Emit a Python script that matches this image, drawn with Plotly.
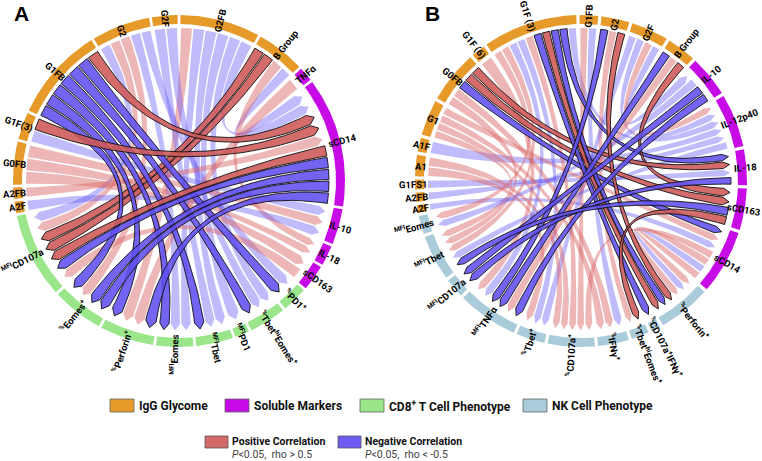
import math
import re
import plotly.graph_objects as go

W, H = 762, 461

# ------------------------------------------------------------------ data
# ---- Panel A : IgG glycome / soluble markers / CD8+ T cell phenotype
A_segments = ["G2FB", "B Group", "TNFa", "sCD14", "IL-10", "IL-18", "sCD163",
              "PD1", "TbetEomes", "MFI PD1", "MFI Tbet", "MFI Eomes", "Perforin", "Eomes", "MFI CD107a",
              "A2F", "A2FB", "G0FB", "G1F(3)", "G1FB", "G2", "G2F"]
A_labels = ["G2FB", "B Group", "TNFα", "sCD14", "IL-10", "IL-18", "sCD163",
            "<sup>%</sup>PD1<sup>+</sup>", "<sup>%</sup>Tbet<sup>hi</sup>Eomes<sup>+</sup>",
            "<sup>MFI</sup>PD1", "<sup>MFI</sup>Tbet", "<sup>MFI</sup>Eomes",
            "<sup>%</sup>Perforin<sup>+</sup>", "<sup>%</sup>Eomes<sup>+</sup>", "<sup>MFI</sup>CD107a",
            "A2F", "A2FB", "G0FB", "G1F(3)", "G1FB", "G2", "G2F"]
A_groups = ["IgG", "IgG", "Sol", "Sol", "Sol", "Sol", "Sol",
            "CD8", "CD8", "CD8", "CD8", "CD8", "CD8", "CD8", "CD8",
            "IgG", "IgG", "IgG", "IgG", "IgG", "IgG", "IgG"]
A_sizes = [28, 17, 5, 45.5, 12.5, 7, 9,
           9, 13, 5, 13, 13, 19, 18, 30,
           4, 4, 15, 9.5, 33, 20.5, 9]
A_src = ["G2FB", "G2FB", "G2FB", "G2FB", "G2FB", "G2F", "G2F", "G2", "G2", "G2", "G2",
         "B Group", "B Group", "G1FB", "G1FB", "G1FB", "G1FB", "G1FB", "G1FB", "G2",
         "G2FB", "B Group", "B Group", "G1FB", "G1F(3)", "G1F(3)", "G0FB", "G0FB", "G0FB", "A2FB", "A2F",
         "TNFa", "sCD14", "sCD14", "sCD14", "sCD14", "sCD14", "sCD163"]
A_tgt = ["Perforin", "MFI Eomes", "MFI Tbet", "MFI PD1", "TbetEomes", "MFI Tbet", "TbetEomes",
         "Eomes", "MFI Eomes", "MFI CD107a", "PD1",
         "MFI CD107a", "MFI CD107a", "MFI Tbet", "MFI Eomes", "TbetEomes", "Perforin", "PD1", "Eomes",
         "MFI CD107a",
         "sCD14", "sCD14", "IL-18", "sCD14", "sCD14", "IL-10", "IL-10", "IL-18", "sCD163", "sCD14", "IL-10",
         "Perforin", "MFI CD107a", "MFI CD107a", "Eomes", "Eomes", "Perforin", "MFI CD107a"]
A_rho = [0.55, -0.56, -0.55, -0.57, -0.55, -0.54, -0.56, 0.55, -0.56, -0.55, -0.57,
         0.74, 0.72, -0.75, -0.73, -0.72, -0.74, -0.71, -0.76, 0.54,
         -0.55, -0.56, 0.55, 0.73, 0.75, -0.54, 0.56, 0.55, 0.57, 0.55, -0.56,
         0.55, 0.72, -0.74, -0.75, -0.71, -0.73, 0.56]

# ---- Panel B : IgG glycome / soluble markers / NK cell phenotype
B_segments = ["G1FB", "G2", "G2F", "B Group", "IL-10", "IL-12p40", "IL-18", "sCD163", "sCD14",
              "Perforin", "CD107aIFNg", "TbetEomes", "IFNg", "CD107a", "Tbet",
              "MFI TNFa", "MFI CD107a", "MFI Tbet", "MFI Eomes",
              "A2F", "A2FB", "G1FS1", "A1", "A1F", "G1", "G0FB", "G1F (6)", "G1F (3)"]
B_labels = ["G1FB", "G2", "G2F", "B Group", "IL-10", "IL-12p40", "IL-18", "sCD163", "sCD14",
            "<sup>%</sup>Perforin<sup>+</sup>", "<sup>%</sup>CD107a<sup>+</sup>IFNγ<sup>+</sup>",
            "<sup>%</sup>Tbet<sup>hi</sup>Eomes<sup>+</sup>", "<sup>%</sup>IFNγ<sup>+</sup>",
            "<sup>%</sup>CD107a<sup>+</sup>", "<sup>%</sup>Tbet<sup>+</sup>",
            "<sup>MFI</sup>TNFα", "<sup>MFI</sup>CD107a", "<sup>MFI</sup>Tbet", "<sup>MFI</sup>Eomes",
            "A2F", "A2FB", "G1FS1", "A1", "A1F", "G1", "G0FB", "G1F (6)", "G1F (3)"]
B_groups = ["IgG", "IgG", "IgG", "IgG", "Sol", "Sol", "Sol", "Sol", "Sol",
            "NK", "NK", "NK", "NK", "NK", "NK", "NK", "NK", "NK", "NK",
            "IgG", "IgG", "IgG", "IgG", "IgG", "IgG", "IgG", "IgG", "IgG"]
B_sizes = [6.5, 9.8, 13, 10.2, 14.5, 18.7, 12.5, 14.5, 22.5,
           18.5, 3.3, 6.2, 10.8, 16.4, 10, 21.4, 6.8, 15.9, 6.4,
           2.7, 3.2, 3.4, 7.5, 4.9, 12.5, 18.3, 4.8, 33.1]
B_src = ["G1F (3)", "G1F (3)", "G2F", "G2F", "B Group", "G0FB", "G0FB", "G0FB", "A1F", "A2FB",
         "G1FS1", "A2F", "G1", "G2F",
         "G1F (3)", "G1F (3)", "G1F (3)", "G1F (3)", "G1F (3)", "G1F (3)", "G1F (3)", "G1F (3)",
         "G1FB", "G1FB", "G2", "G2", "G2", "G2F", "B Group", "B Group", "A1", "A1",
         "G1", "G1", "G1", "G0FB", "G0FB", "G1F (6)",
         "IL-10", "IL-10", "IL-10", "IL-12p40", "IL-18", "sCD163", "sCD163",
         "sCD14", "sCD14", "sCD14", "sCD14"]
B_tgt = ["IL-18", "IL-12p40", "IL-10", "IL-12p40", "sCD163", "IL-18", "sCD163", "sCD14", "IL-12p40",
         "IL-12p40", "IL-18", "sCD14", "sCD14", "IL-12p40",
         "MFI Eomes", "MFI Tbet", "MFI TNFa", "CD107a", "Perforin", "Tbet", "CD107aIFNg", "Perforin",
         "IFNg", "CD107a", "MFI TNFa", "TbetEomes", "Perforin", "Tbet", "MFI TNFa", "MFI TNFa",
         "Tbet", "CD107a", "MFI Tbet", "IFNg", "CD107a", "MFI Tbet", "IFNg", "MFI TNFa",
         "MFI TNFa", "MFI CD107a", "MFI Eomes", "MFI Tbet", "MFI CD107a", "TbetEomes", "MFI Tbet",
         "Perforin", "Perforin", "Perforin", "CD107a"]
B_rho = [-0.74, -0.55, -0.56, -0.55, 0.73, 0.75, 0.72, -0.74, -0.55, -0.56,
         -0.55, -0.54, 0.56, 0.55,
         0.55, 0.56, -0.55, 0.54, 0.73, -0.56, -0.72, -0.75,
         -0.55, 0.56, -0.74, 0.55, 0.72, -0.56, -0.73, 0.55, 0.56, 0.55,
         0.55, 0.56, 0.57, 0.55, 0.56, 0.55,
         -0.72, -0.75, -0.55, -0.56, -0.73, 0.71, -0.74,
         0.56, -0.55, 0.55, 0.56]

GROUP_COLORS = {"IgG": "#E59A2A", "Sol": "#C60BE6", "CD8": "#9BE68B", "NK": "#AACCDA"}
STRONG = 0.7

legend_groups = ["IgG Glycome", "Soluble Markers", "CD8<sup>+</sup> T Cell Phenotype", "NK Cell Phenotype"]
legend_colors = ["#E59A2A", "#C60BE6", "#9BE68B", "#AACCDA"]
corr_labels = ["Positive Correlation", "Negative Correlation"]
corr_sub = ["<i>P</i><0.05,  rho > 0.5", "<i>P</i><0.05,  rho < -0.5"]
corr_colors = ["#D46A6A", "#6E5CF2"]

# ------------------------------------------------------------------ geometry
R_OUT, R_IN = 166, 157
R_SRC_IGG, R_SRC_OTHER = 153, 150
R_TGT_BASE, R_TGT_TIP = 143, 149.5
PAD = 0.28
FONT = "Roboto, Liberation Sans, Arial, sans-serif"


def pt(cx, cy, r, a):
    t = math.radians(a)
    return cx + r * math.sin(t), cy - r * math.cos(t)


def layout_segments(sizes, start):
    gap = (360.0 - sum(sizes)) / len(sizes)
    out, a = [], start
    for s in sizes:
        out.append((a, a + s))
        a += s + gap
    return out


def text_width(html, fs):
    sups = re.findall(r"<sup>(.*?)</sup>", html)
    main = re.sub(r"<sup>.*?</sup>", "", html)
    return 0.55 * fs * len(main) + 0.38 * fs * sum(len(s) for s in sups)


fig = go.Figure()
annotations = []


def draw_panel(cx, cy, segs, labels, groups, sizes, start, src, tgt, rho):
    ranges = layout_segments(sizes, start)
    idx = {n: i for i, n in enumerate(segs)}
    mids = [(a + b) / 2 for a, b in ranges]
    # ring
    for i, (a, b) in enumerate(ranges):
        n = max(6, int((b - a) * 2))
        xs, ys = [], []
        for k in range(n + 1):
            x, y = pt(cx, cy, R_OUT, a + (b - a) * k / n); xs.append(x); ys.append(y)
        for k in range(n, -1, -1):
            x, y = pt(cx, cy, R_IN, a + (b - a) * k / n); xs.append(x); ys.append(y)
        fig.add_trace(go.Scatter(x=xs, y=ys, fill="toself", mode="lines", line=dict(width=0),
                                 fillcolor=GROUP_COLORS[groups[i]], hoverinfo="skip", showlegend=False))
    # slot allocation
    ends = {i: [] for i in range(len(segs))}
    for li, (s, t) in enumerate(zip(src, tgt)):
        si, ti = idx[s], idx[t]
        ends[si].append((-((mids[ti] - mids[si]) % 360), li, "s"))
        ends[ti].append((-((mids[si] - mids[ti]) % 360), -li, "t"))
    slot = {}
    for i, lst in ends.items():
        lst.sort()
        if not lst:
            continue
        a, b = ranges[i]
        w = (b - a) / len(lst)
        for k, (_, li, role) in enumerate(lst):
            slot[(abs(li), role)] = (a + k * w + PAD, a + (k + 1) * w - PAD)
    # chords (light first, strong on top)
    order = sorted(range(len(src)), key=lambda l: abs(rho[l]) >= STRONG)
    for l in order:
        s1, s2 = slot[(l, "s")]
        t1, t2 = slot[(l, "t")]
        rs = R_SRC_IGG if groups[idx[src[l]]] == "IgG" else R_SRC_OTHER
        xs, ys = [], []
        m = 8
        for k in range(m + 1):
            x, y = pt(cx, cy, rs, s1 + (s2 - s1) * k / m); xs.append(x); ys.append(y)
        P0 = pt(cx, cy, rs, s2); P2 = pt(cx, cy, R_TGT_BASE, t1)
        n = 40
        for k in range(1, n):
            u = k / n
            xs.append((1 - u) ** 2 * P0[0] + 2 * u * (1 - u) * cx + u * u * P2[0])
            ys.append((1 - u) ** 2 * P0[1] + 2 * u * (1 - u) * cy + u * u * P2[1])
        for (r, a) in [(R_TGT_BASE, t1), (R_TGT_TIP, (t1 + t2) / 2), (R_TGT_BASE, t2)]:
            x, y = pt(cx, cy, r, a); xs.append(x); ys.append(y)
        P0 = pt(cx, cy, R_TGT_BASE, t2); P2 = pt(cx, cy, rs, s1)
        for k in range(1, n + 1):
            u = k / n
            xs.append((1 - u) ** 2 * P0[0] + 2 * u * (1 - u) * cx + u * u * P2[0])
            ys.append((1 - u) ** 2 * P0[1] + 2 * u * (1 - u) * cy + u * u * P2[1])
        strong = abs(rho[l]) >= STRONG
        if rho[l] > 0:
            fc = "rgba(206,88,88,0.88)" if strong else "rgba(218,105,105,0.48)"
        else:
            fc = "rgba(96,80,240,0.88)" if strong else "rgba(104,92,245,0.42)"
        fig.add_trace(go.Scatter(x=xs, y=ys, fill="toself", mode="lines",
                                 line=dict(width=0.9 if strong else 0, color="#111"),
                                 fillcolor=fc, hoverinfo="skip", showlegend=False))
    # labels (radial, readable side up; pulled inward if they would leave the page)
    fs = 9.5
    for i, lab in enumerate(labels):
        th = mids[i] % 360
        ang = th - 90 if th < 180 else th - 270
        w = text_width(lab, fs)
        s = math.sin(math.radians(th))
        r0 = 155.0
        if s > 0.3:
            r0 = min(r0, (W - 3 - cx) / s - w)
        elif s < -0.3:
            r0 = min(r0, (cx - 1) / (-s) - w)
        x, y = pt(cx, cy, r0 + w / 2, th)
        annotations.append(dict(x=x, y=y, xref="x", yref="y", text=lab, showarrow=False,
                                textangle=ang, xanchor="center", yanchor="middle",
                                font=dict(family=FONT, size=fs, color="#000", weight="bold")))


draw_panel(179, 181, A_segments, A_labels, A_groups, A_sizes, 0.5, A_src, A_tgt, A_rho)
draw_panel(581, 181, B_segments, B_labels, B_groups, B_sizes, -0.5, B_src, B_tgt, B_rho)

# panel letters
for txt, x in [("A", 12), ("B", 423)]:
    annotations.append(dict(x=x, y=0, xref="x", yref="y", text=txt, showarrow=False,
                            xanchor="left", yanchor="top",
                            font=dict(family="Liberation Sans, Arial", size=21, color="#000", weight="bold")))

# legend (group boxes)
shapes = []
leg_x = [110, 225, 360, 523]
for lab, col, x in zip(legend_groups, legend_colors, leg_x):
    shapes.append(dict(type="rect", xref="x", yref="y", x0=x, x1=x + 24, y0=399, y1=412,
                       fillcolor=col, line=dict(color="#666", width=0.8)))
    annotations.append(dict(x=x + 27, y=406, xref="x", yref="y", text=lab, showarrow=False,
                            xanchor="left", yanchor="middle",
                            font=dict(family=FONT, size=12, color="#111", weight="bold")))

corr_x = [205, 338]
for lab, sub, col, x in zip(corr_labels, corr_sub, corr_colors, corr_x):
    shapes.append(dict(type="rect", xref="x", yref="y", x0=x, x1=x + 23, y0=436, y1=448,
                       fillcolor=col, line=dict(color="#555", width=0.8)))
    annotations.append(dict(x=x + 25, y=441, xref="x", yref="y", text=lab, showarrow=False,
                            xanchor="left", yanchor="middle",
                            font=dict(family=FONT, size=10.5, color="#111", weight="bold")))
    annotations.append(dict(x=x + 25, y=454, xref="x", yref="y", text=sub, showarrow=False,
                            xanchor="left", yanchor="middle",
                            font=dict(family=FONT, size=10.5, color="#444")))

fig.update_layout(
    width=W, height=H, margin=dict(l=0, r=0, t=0, b=0),
    paper_bgcolor="white", plot_bgcolor="white",
    xaxis=dict(range=[0, W], visible=False, fixedrange=True),
    yaxis=dict(range=[H, 0], visible=False, fixedrange=True),
    annotations=annotations, shapes=shapes, showlegend=False,
)
fig.write_html("out.html", config={"displayModeBar": False},
               post_script="document.body.style.margin='0px';")
